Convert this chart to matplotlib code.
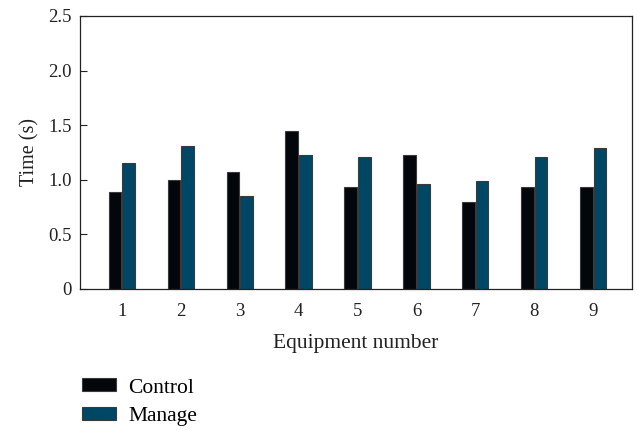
import matplotlib
import matplotlib.pyplot as plt
import numpy as np

matplotlib.use("Agg")

# values
equipment = [1, 2, 3, 4, 5, 6, 7, 8, 9]
control = [0.89, 1.00, 1.07, 1.45, 0.93, 1.23, 0.80, 0.93, 0.93]
manage = [1.15, 1.31, 0.85, 1.23, 1.21, 0.96, 0.99, 1.21, 1.29]
y_ticks = [0, 0.5, 1.0, 1.5, 2.0, 2.5]
y_labels = ["0", "0.5", "1.0", "1.5", "2.0", "2.5"]

plt.rcParams["font.family"] = ["Liberation Serif", "DejaVu Serif"]

fig = plt.figure(figsize=(6.38, 4.3), dpi=100)
ax = fig.add_axes([0.1254, 0.328, 0.8652, 0.635])

x = np.array(equipment)
w = 0.215
ax.bar(x - w / 2 - 0.008, control, width=w, color="#03060b",
       edgecolor="#3a3a3a", linewidth=0.8, label="Control")
ax.bar(x + w / 2 + 0.008, manage, width=w, color="#004766",
       edgecolor="#3a3a3a", linewidth=0.8, label="Manage")

ax.set_xlim(0.29, 9.66)
ax.set_ylim(0, 2.5)
ax.set_xticks(x)
ax.set_xticklabels([str(e) for e in equipment])
ax.set_yticks(y_ticks)
ax.set_yticklabels(y_labels)
ax.tick_params(axis="y", direction="in", length=5, width=0.8, labelsize=13.5,
               colors="#222222", pad=6)
ax.tick_params(axis="x", length=0, labelsize=13.5, colors="#222222", pad=10)
for s in ax.spines.values():
    s.set_linewidth(0.9)
    s.set_color("#222222")

ax.set_xlabel("Equipment number", fontsize=15.5, color="#222222", labelpad=10)
ax.set_ylabel("Time (s)", fontsize=14.5, color="#222222", labelpad=6)

fig.legend(loc="upper left", bbox_to_anchor=(0.115, 0.14), frameon=False,
           fontsize=15.5, handlelength=1.6, handleheight=0.55,
           labelspacing=0.45, handletextpad=0.55, borderaxespad=0)

fig.savefig("out.png", dpi=100)
